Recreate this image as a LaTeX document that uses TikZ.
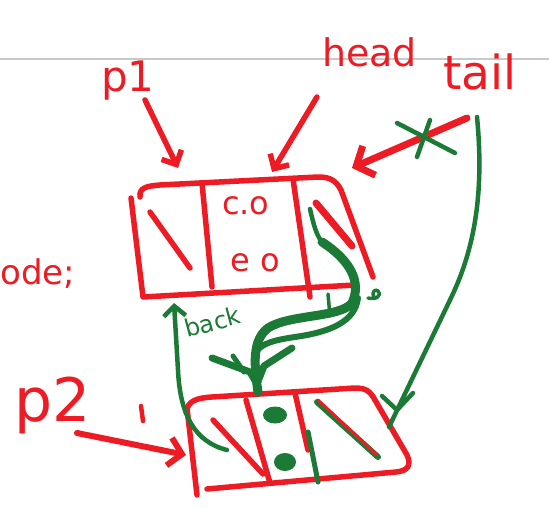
\documentclass[tikz,border=0pt]{standalone}
\usepackage{fontspec}
\newfontfamily\hand{DejaVu Sans}
\usetikzlibrary{arrows.meta}
\definecolor{inkred}{HTML}{ED1C24}
\definecolor{inkgreen}{HTML}{1B7A35}
\definecolor{ruleline}{HTML}{C8C8C8}
\begin{document}
\begin{tikzpicture}[x=1pt,y=-1pt,
  redpen/.style={draw=inkred,line width=5.5pt,line cap=round,line join=round},
  greenpen/.style={draw=inkgreen,line width=4.5pt,line cap=round,line join=round},
  fatgreen/.style={draw=inkgreen,line width=9pt,line cap=round,line join=round},
  barb/.style={-{Straight Barb[length=11pt,width=22pt]}},
  redtext/.style={inner sep=0pt,anchor=base west,text=inkred},
  greentext/.style={inner sep=0pt,anchor=base west,text=inkgreen}]
\fill[white] (0,0) rectangle (549,508);
\useasboundingbox (0,0) rectangle (549,508);

% ruled line of the notebook page
\draw[ruleline,line width=2pt] (0,59) -- (549,59);

% labels
\node[redtext,font=\hand\fontsize{38}{38}\selectfont] (head) at (322,67) {head};
\node[redtext,font=\hand\fontsize{42}{42}\selectfont] (p1) at (101,92) {p1};
\node[redtext,font=\hand\fontsize{47}{47}\selectfont] (tail) at (443,90) {tail};
\node[redtext,font=\hand\fontsize{60}{60}\selectfont] (p2) at (14,421) {p2};
\node[redtext,font=\hand\fontsize{34}{34}\selectfont] (decl) at (0,284) {ode;};

% first node: three cells
\draw[redpen] (131,198) -- (143,297) -- (355,285);
\draw[redpen] (140,197) .. controls (139,188) and (146,186) .. (160,185)
  -- (318,177) .. controls (331,177) and (336,181) .. (341,190) -- (373,277);
\draw[redpen] (202,183) -- (212,287);
\draw[redpen] (293,179) -- (310,297);
\draw[redpen] (150,212) -- (190,268);
\node[redtext,font=\hand\fontsize{32}{32}\selectfont] (cfield) at (222,214) {c.o};
\node[redtext,font=\hand\fontsize{32}{32}\selectfont] (efield) at (230,271) {e o};

% second node: three cells
\draw[redpen] (187,408) -- (197,495);
\draw[redpen] (186,412) .. controls (188,401) and (196,398) .. (212,397)
  -- (355,388) .. controls (366,388) and (370,391) .. (375,400)
  -- (407,455) .. controls (412,466) and (407,471) .. (396,472) -- (207,489);
\draw[redpen] (246,400) -- (270,483);
\draw[redpen] (295,393) -- (308,450);
\draw[greenpen,line width=5pt] (308,432) -- (318,482);
\draw[redpen] (213,420) -- (263,474);
\fill[inkgreen] (275,415) ellipse [x radius=12pt,y radius=8.5pt];
\fill[inkgreen] (285,462) ellipse [x radius=11pt,y radius=9pt];
\draw[greenpen,line width=6pt] (317,402) -- (378,457);
\draw[redpen,line width=3pt] (318,400) -- (377,455);

% pointer arrows
\coordinate (p1from) at (145,100);
\coordinate (p1to) at (178,168);
\draw[redpen,barb] (p1from) -- (p1to);
\coordinate (headfrom) at (317,97);
\coordinate (headto) at (272,172);
\draw[redpen,barb] (headfrom) -- (headto);
\coordinate (tailfrom) at (467,118);
\coordinate (tailto) at (352,168);
\draw[redpen,line width=7pt,-{Straight Barb[length=14pt,width=32pt]}] (tailfrom) -- (tailto);
\coordinate (p2from) at (77,433);
\coordinate (p2to) at (186,455);
\draw[redpen,line width=6pt,-{Straight Barb[length=13pt,width=28pt]}] (p2from) -- (p2to);
\draw[redpen,line width=4.5pt] (141,406) -- (143,421);

% old tail pointer crossed out
\draw[greenpen] (397,123) -- (455,153);
\draw[greenpen] (430,120) -- (417,157);

% new tail pointer to the second node
\coordinate (tailstart) at (477,117);
\coordinate (tailend) at (389,427);
\draw[greenpen] (tailstart) .. controls (485,200) and (472,255) .. (450,300) -- (tailend);
\draw[greenpen] (382,396) -- (397,410) -- (413,393);

% next link from the first node to the second
\coordinate (nextfrom) at (310,209);
\coordinate (nextto) at (258,392);
\draw[greenpen] (nextfrom) .. controls (313,222) and (316,235) .. (322,242);
\draw[redpen,line width=7pt] (316,203) -- (352,246);
\draw[fatgreen] (322,242) .. controls (350,260) and (362,282) .. (352,303)
  .. controls (340,318) and (290,314) .. (268,328)
  .. controls (252,340) and (254,365) .. (nextto);
\draw[greenpen,line width=6pt] (358,298) .. controls (355,322) and (330,332) .. (295,337)
  .. controls (275,340) and (262,343) .. (256,352);
\draw[greenpen,line width=7pt] (212,358) -- (250,372) -- (257,384);
\draw[greenpen,line width=7pt] (292,348) -- (264,366) -- (257,384);
\draw[greenpen,line width=5pt] (233,356) -- (244,372);
\draw[greenpen,line width=3.5pt] (328,294) -- (330,316);
\draw[greenpen,line width=3.5pt] (368,298) .. controls (376,300) and (382,296) .. (378,291)
  .. controls (375,288) and (371,293) .. (374,297);

% back link from the second node to the first
\coordinate (backfrom) at (227,450);
\coordinate (backto) at (174,303);
\draw[greenpen,-{Straight Barb[length=10pt,width=22pt]}] (backfrom)
  .. controls (195,442) and (180,415) .. (178,370) -- (backto);
\node[greentext,font=\hand\fontsize{24}{24}\selectfont,rotate=15] (back) at (187,338) {back};
\end{tikzpicture}
\end{document}
